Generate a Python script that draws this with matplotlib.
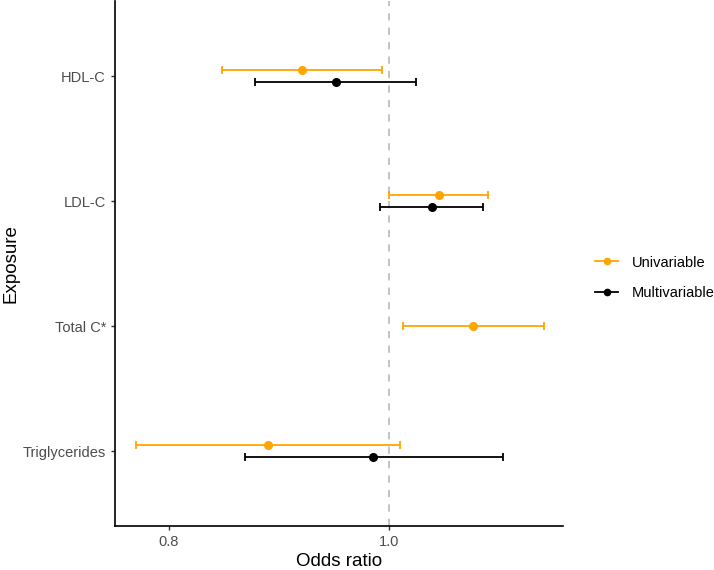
import matplotlib.pyplot as plt
import numpy as np

plt.rcParams['font.family'] = ['Liberation Sans', 'DejaVu Sans']

# data
exposures = ["HDL-C", "LDL-C", "Total C*", "Triglycerides"]
uni_or = [0.921, 1.046, 1.077, 0.890]
uni_lo = [0.848, 1.000, 1.013, 0.770]
uni_hi = [0.994, 1.090, 1.141, 1.010]
multi_or = [0.952, 1.039, np.nan, 0.986]
multi_lo = [0.878, 0.992, np.nan, 0.869]
multi_hi = [1.025, 1.086, np.nan, 1.104]

orange = "#FFA500"

fig = plt.figure(figsize=(7.14, 5.70), dpi=100)
ax = fig.add_axes([0.161, 0.0772, 0.6275, 0.9208])

ypos = np.arange(len(exposures))[::-1] + 1.0  # HDL-C on top
dodge = 0.05

ax.axvline(1.0, color="#BEBEBE", linestyle=(0, (4, 4)), linewidth=1.3, zorder=0)

for i, y in enumerate(ypos):
    has_multi = not np.isnan(multi_or[i])
    yu = y + dodge if has_multi else y
    ax.errorbar(uni_or[i], yu,
                xerr=[[uni_or[i] - uni_lo[i]], [uni_hi[i] - uni_or[i]]],
                fmt="o", color=orange, markersize=5.5, elinewidth=1.3,
                capsize=3, capthick=1.3)
    if has_multi:
        ax.errorbar(multi_or[i], y - dodge,
                    xerr=[[multi_or[i] - multi_lo[i]], [multi_hi[i] - multi_or[i]]],
                    fmt="o", color="black", markersize=5.5, elinewidth=1.3,
                    capsize=3, capthick=1.3)

ax.set_xlim(0.7508, 1.1587)
ax.set_ylim(0.4, 4.6)
ax.set_xticks([0.8, 1.0])
ax.set_xticklabels(["0.8", "1.0"])
ax.set_yticks(ypos)
ax.set_yticklabels(exposures)
ax.tick_params(labelsize=10.5, labelcolor="#4D4D4D", color="#333333",
               length=3, width=1)

for s in ["top", "right"]:
    ax.spines[s].set_visible(False)
for s in ["left", "bottom"]:
    ax.spines[s].set_linewidth(1.2)

ax.set_xlabel("Odds ratio", fontsize=13.5)
ax.set_ylabel("Exposure", fontsize=13.5)
ax.xaxis.set_label_coords(0.5, -0.051)
ax.yaxis.set_label_coords(-0.212, 0.5)

h1 = plt.Line2D([], [], color=orange, marker="o", markersize=4.5, linewidth=1.3)
h2 = plt.Line2D([], [], color="black", marker="o", markersize=4.5, linewidth=1.3)
fig.legend([h1, h2], ["Univariable", "Multivariable"],
           loc="center left", bbox_to_anchor=(0.815, 0.513), frameon=False,
           fontsize=10.5, handlelength=1.6, labelspacing=1.1, handletextpad=0.94)

fig.savefig("out.png", dpi=100)
